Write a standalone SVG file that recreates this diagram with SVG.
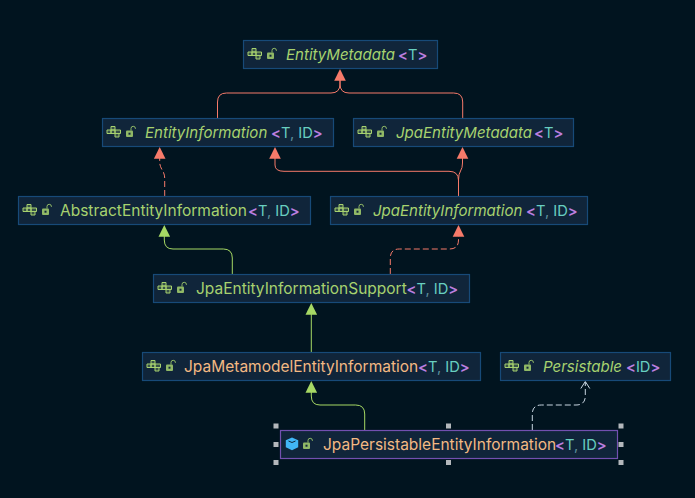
<svg xmlns="http://www.w3.org/2000/svg" width="695" height="498" viewBox="0 0 695 498">
<style>
text{font-family:Inter,"Noto Sans",sans-serif;font-size:15.5px;white-space:pre}
text.gn{font-size:14.7px}
.box{fill:#10253a;stroke:#174a78;stroke-width:1.2}
.sel{stroke:#7350b0}
.g{fill:#a7d26f}.o{fill:#f3b983}.p{fill:#bd7fe0;font-weight:600}.t{fill:#68cfc0}.c{fill:#5f8f9a}
text.i{font-style:italic;font-size:15.05px}
.line{fill:none;stroke-width:1}
.r{stroke:#f67a6a}.lg{stroke:#a6d864}.w{stroke:#c9d6e2}
.d{stroke-dasharray:6 3}
.ah{stroke:none}
.ic{fill:#a7d26f;fill-opacity:.25;stroke:#a7d26f;stroke-width:1}
.lk{fill:#a7d26f;opacity:.85}
.lks{fill:none;stroke:#a7d26f;stroke-width:1;opacity:.85}
.h{fill:#b4b8bc}
</style>
<defs>
<g id="cl"><path class="ic" d="M4.500 -1.500h4v3.500h-4zM0.500 2h4v3.500h-4zM8.500 2h5.500v3.500h-5.500zM4.500 2h4v3.500h-4zM8.500 5.500h4v3.500h-4z"/></g>
<g id="lock"><rect class="lk" x="0" y="2.500" width="7" height="6.500" rx="1"/><path class="lks" d="M5 2.500v-2a2.200 2.200 0 0 1 4.400 0v.5"/><rect x="2.500" y="4.700" width="2" height="2" fill="#10253a"/></g>
<path id="upR" class="ah" fill="#f67a6a" d="M0 0l5.800 11.800h-11.600z"/>
<path id="upG" class="ah" fill="#a6d864" d="M0 0l5.800 11.800h-11.600z"/>
</defs>
<rect width="695" height="498" fill="#01141f"/>
<g id="connectors">
<path class="line r" d="M217.500 118V102q0-9 9-9H331q9 0 9-9V80"/>
<path class="line r" d="M462.700 118V102q0-9-9-9H349q-9 0-9-9V80"/>
<path class="line r d" d="M164.700 196V178q0-4-2.500-8t-2.500-8V158"/>
<path class="line r" d="M275 158V165q0 6.300 9 6.300H449q9.500 0 9.500 9V196"/>
<path class="line r" d="M458.500 196V180q0-6 2-9t2-8V158"/>
<path class="line lg" d="M232.300 274V258q0-9-9-9H173q-8.700 0-8.700-9V236"/>
<path class="line r d" d="M390.300 274V258q0-9 9-9H449.500q9 0 9-9V236"/>
<path class="line lg" d="M311.300 352V314"/>
<path class="line lg" d="M364.700 430V414q0-9-9-9H320q-8.700 0-8.700-9V392"/>
<path class="line w d" d="M532.300 430V414q0-9 9-9H576q9.300 0 9.300-9V382"/>
<use href="#upR" x="340" y="69"/>
<use href="#upR" x="159.700" y="147"/>
<use href="#upR" x="275" y="147"/>
<use href="#upR" x="462.500" y="147"/>
<use href="#upG" x="164.300" y="225"/>
<use href="#upR" x="458.500" y="225"/>
<use href="#upG" x="311.300" y="303"/>
<use href="#upG" x="311.300" y="381"/>
<path class="line w" d="M580.800 388.500L585.300 381.500L589.800 388.500"/>
</g>
<g id="EntityMetadata"><rect class="box" x="243.500" y="40.500" width="194" height="28"/><use href="#cl" x="247.500" y="50"/><use href="#lock" x="267" y="50"/><text x="286" y="60" class="g i">EntityMetadata</text><text x="398" y="60" class="gn"><tspan class="p">&lt;</tspan><tspan class="t">T</tspan><tspan class="p">&gt;</tspan></text></g>
<g id="EntityInformation"><rect class="box" x="102.500" y="118.500" width="231" height="28"/><use href="#cl" x="106.500" y="128"/><use href="#lock" x="126" y="128"/><text x="145" y="138" class="g i">EntityInformation</text><text x="271" y="138" class="gn"><tspan class="p">&lt;</tspan><tspan class="t">T</tspan><tspan class="c">, </tspan><tspan class="t">ID</tspan><tspan class="p">&gt;</tspan></text></g>
<g id="JpaEntityMetadata"><rect class="box" x="353.500" y="118.500" width="220" height="28"/><use href="#cl" x="357.500" y="128"/><use href="#lock" x="377" y="128"/><text x="396" y="138" class="g i">JpaEntityMetadata</text><text x="534" y="138" class="gn"><tspan class="p">&lt;</tspan><tspan class="t">T</tspan><tspan class="p">&gt;</tspan></text></g>
<g id="AbstractEntityInformation"><rect class="box" x="18.500" y="196.500" width="292" height="28"/><use href="#cl" x="22.500" y="206"/><use href="#lock" x="42" y="206"/><text x="60" y="216" class="g">AbstractEntityInformation</text><text x="248" y="216" class="gn"><tspan class="p">&lt;</tspan><tspan class="t">T</tspan><tspan class="c">, </tspan><tspan class="t">ID</tspan><tspan class="p">&gt;</tspan></text></g>
<g id="JpaEntityInformation"><rect class="box" x="330.500" y="196.500" width="257" height="28"/><use href="#cl" x="334.500" y="206"/><use href="#lock" x="354" y="206"/><text x="373" y="216" class="g i">JpaEntityInformation</text><text x="526" y="216" class="gn"><tspan class="p">&lt;</tspan><tspan class="t">T</tspan><tspan class="c">, </tspan><tspan class="t">ID</tspan><tspan class="p">&gt;</tspan></text></g>
<g id="JpaEntityInformationSupport"><rect class="box" x="153.500" y="274.500" width="316" height="28"/><use href="#cl" x="157.500" y="284"/><use href="#lock" x="177" y="284"/><text x="196" y="294" class="g">JpaEntityInformationSupport</text><text x="406.500" y="294" class="gn"><tspan class="p">&lt;</tspan><tspan class="t">T</tspan><tspan class="c">, </tspan><tspan class="t">ID</tspan><tspan class="p">&gt;</tspan></text></g>
<g id="JpaMetamodelEntityInformation"><rect class="box" x="142.500" y="352.500" width="338" height="28"/><use href="#cl" x="146.500" y="362"/><use href="#lock" x="166" y="362"/><text x="184" y="372" class="o">JpaMetamodelEntityInformation</text><text x="418" y="372" class="gn"><tspan class="p">&lt;</tspan><tspan class="t">T</tspan><tspan class="c">, </tspan><tspan class="t">ID</tspan><tspan class="p">&gt;</tspan></text></g>
<g id="Persistable"><rect class="box" x="500.500" y="352.500" width="170" height="28"/><use href="#cl" x="504.500" y="362"/><use href="#lock" x="524" y="362"/><text x="543" y="372" class="g i">Persistable</text><text x="626" y="372" class="gn"><tspan class="p">&lt;</tspan><tspan class="t">ID</tspan><tspan class="p">&gt;</tspan></text></g>
<g id="JpaPersistableEntityInformation"><rect class="box sel" x="280.500" y="430.500" width="337" height="28"/><path d="M292 437.500l6.200 2.800v7l-6.200 3-6.200-3v-7z" fill="#41b6f6"/><path d="M288.500 441l3.500 1.500 3.500-1.500" fill="none" stroke="#10253a"/><use href="#lock" x="303" y="440"/><text x="323" y="450" class="o">JpaPersistableEntityInformation</text><text x="555" y="450" class="gn"><tspan class="p">&lt;</tspan><tspan class="t">T</tspan><tspan class="c">, </tspan><tspan class="t">ID</tspan><tspan class="p">&gt;</tspan></text>
<rect class="h" x="273.500" y="423.500" width="5" height="5"/><rect class="h" x="446" y="423.500" width="5" height="5"/><rect class="h" x="618.500" y="423.500" width="5" height="5"/><rect class="h" x="273.500" y="442" width="5" height="5"/><rect class="h" x="618.500" y="442" width="5" height="5"/><rect class="h" x="273.500" y="460" width="5" height="5"/><rect class="h" x="446" y="460" width="5" height="5"/><rect class="h" x="618.500" y="460" width="5" height="5"/></g>
</svg>
